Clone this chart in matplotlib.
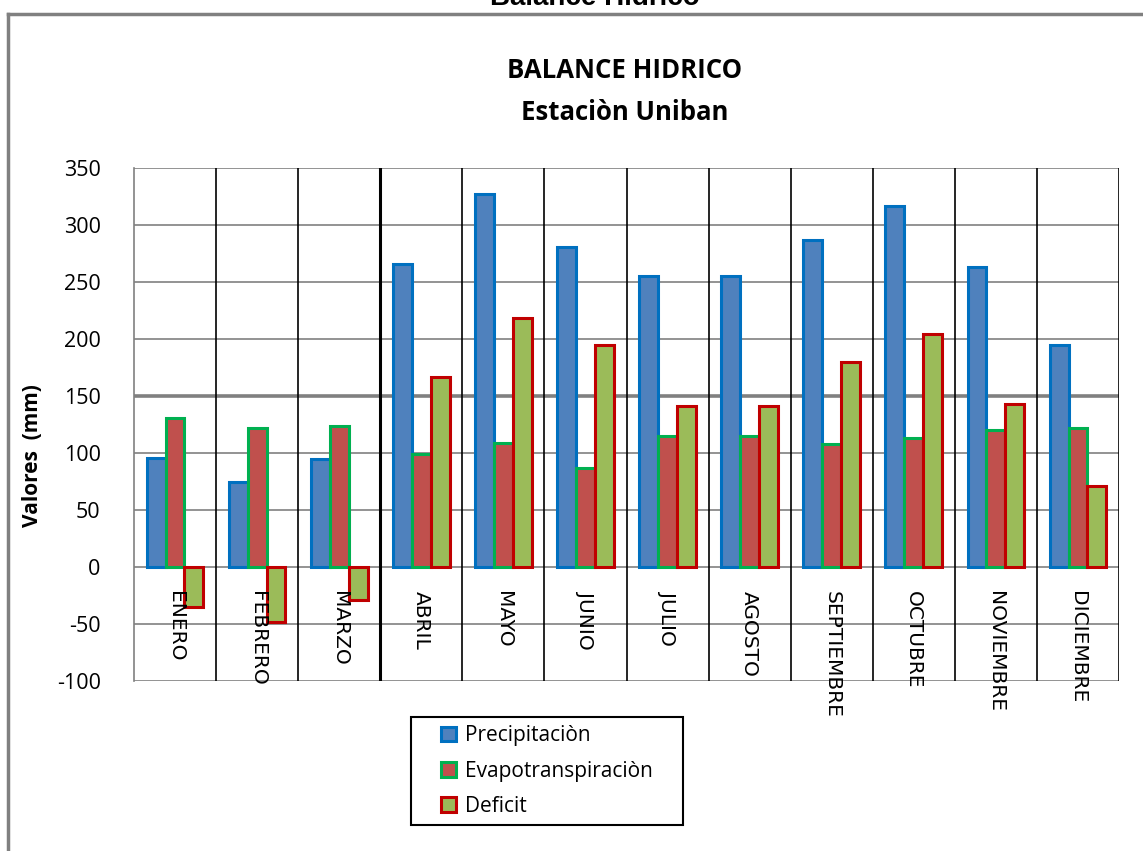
import numpy as np
import matplotlib
matplotlib.use("Agg")
import matplotlib.pyplot as plt
from matplotlib.patches import Rectangle, Patch

plt.rcParams["axes.unicode_minus"] = False

meses = ["ENERO", "FEBRERO", "MARZO", "ABRIL", "MAYO", "JUNIO", "JULIO",
         "AGOSTO", "SEPTIEMBRE", "OCTUBRE", "NOVIEMBRE", "DICIEMBRE"]
precipitacion = [96, 75, 95, 266, 327, 281, 255, 255, 287, 317, 263, 195]
evapotransp = [131, 122, 124, 99, 109, 87, 115, 115, 108, 113, 120, 122]
deficit = [-35, -48, -29, 167, 218, 195, 141, 141, 180, 204, 143, 71]
yticks = [350, 300, 250, 200, 150, 100, 50, 0, -50, -100]

W, H = 1143, 851
fig = plt.figure(figsize=(W / 100, H / 100), dpi=100)
fig.patch.set_facecolor("white")

# outer gray frame (open on right and bottom)
fig.add_artist(plt.Line2D([8 / W, 8 / W], [0, 1 - 14 / H], color="#808080", lw=2.5,
                          transform=fig.transFigure))
fig.add_artist(plt.Line2D([8 / W, 1], [1 - 14 / H, 1 - 14 / H], color="#808080", lw=2.5,
                          transform=fig.transFigure))

# heading sitting above the frame, mostly off the page
fig.text(595 / W, 1 - 5 / H, "Balance Hidrico", ha="center", va="baseline",
         fontsize=20, fontweight="bold", family="Liberation Sans")

ax = fig.add_axes([134 / W, 1 - 681 / H, (1119 - 134) / W, (681 - 168) / H])
x = np.arange(len(meses))
bw = 0.23

ax.bar(x - bw, precipitacion, bw, color="#4F81BD", edgecolor="#0070C0", lw=2.2,
       label="Precipitaciòn", zorder=3)
ax.bar(x, evapotransp, bw, color="#C0504D", edgecolor="#00B050", lw=2.2,
       label="Evapotranspiraciòn", zorder=3)
ax.bar(x + bw, deficit, bw, color="#9BBB59", edgecolor="#C00000", lw=2.2,
       label="Deficit", zorder=3)

ax.set_xlim(-0.5, len(meses) - 0.5)
ax.set_ylim(-100, 350)

# horizontal grid
for v in yticks:
    ax.axhline(v, color="#808080", lw=2.6 if v == 150 else 1.2, zorder=1)
# vertical separators between months
for i in range(1, len(meses) + 1):
    ax.axvline(i - 0.5, color="black", lw=2.2 if i == 3 else 1.2, zorder=2)

for s in ["top", "right", "bottom"]:
    ax.spines[s].set_visible(False)
ax.spines["left"].set_color("#808080")
ax.spines["left"].set_linewidth(1.2)

ax.set_xticks([])
ax.set_yticks(yticks)
ax.tick_params(axis="y", length=0, pad=24, labelsize=15.5)
for t in ax.get_yticklabels():
    t.set_family("Open Sans")

for i, m in enumerate(meses):
    ax.text(i, -21, m, rotation=-90, ha="center", va="top", fontsize=14.5,
            family="DejaVu Sans", zorder=4)

ax.set_ylabel("Valores  (mm)", fontsize=15, fontweight="bold", family="Open Sans")
ax.yaxis.set_label_coords(-0.092, 0.44)

fig.text(625 / W, 1 - 70 / H, "BALANCE HIDRICO", ha="center", va="center",
         fontsize=18.5, fontweight="bold", family="Open Sans")
fig.text(625 / W, 1 - 113 / H, "Estaciòn Uniban", ha="center", va="center",
         fontsize=18.5, fontweight="bold", family="Open Sans")

# legend box drawn separately so the padding can be set freely
fig.add_artist(Rectangle((411 / W, 1 - 825 / H), (683 - 411) / W, (825 - 717) / H,
                         transform=fig.transFigure, facecolor="white",
                         edgecolor="black", lw=1.5, zorder=5))
handles = [
    Patch(facecolor="#4F81BD", edgecolor="#0070C0", lw=2.2, label="Precipitaciòn"),
    Patch(facecolor="#C0504D", edgecolor="#00B050", lw=2.2, label="Evapotranspiraciòn"),
    Patch(facecolor="#9BBB59", edgecolor="#C00000", lw=2.2, label="Deficit"),
]
leg = fig.legend(handles=handles, loc="center",
                 bbox_to_anchor=(547 / W, 1 - 771 / H),
                 prop={"family": "Open Sans", "size": 15}, frameon=False,
                 handlelength=0.7, handleheight=0.7, handletextpad=0.45,
                 labelspacing=0.68, borderpad=0, borderaxespad=0)
leg.set_zorder(6)

fig.savefig("out.png", dpi=100)
